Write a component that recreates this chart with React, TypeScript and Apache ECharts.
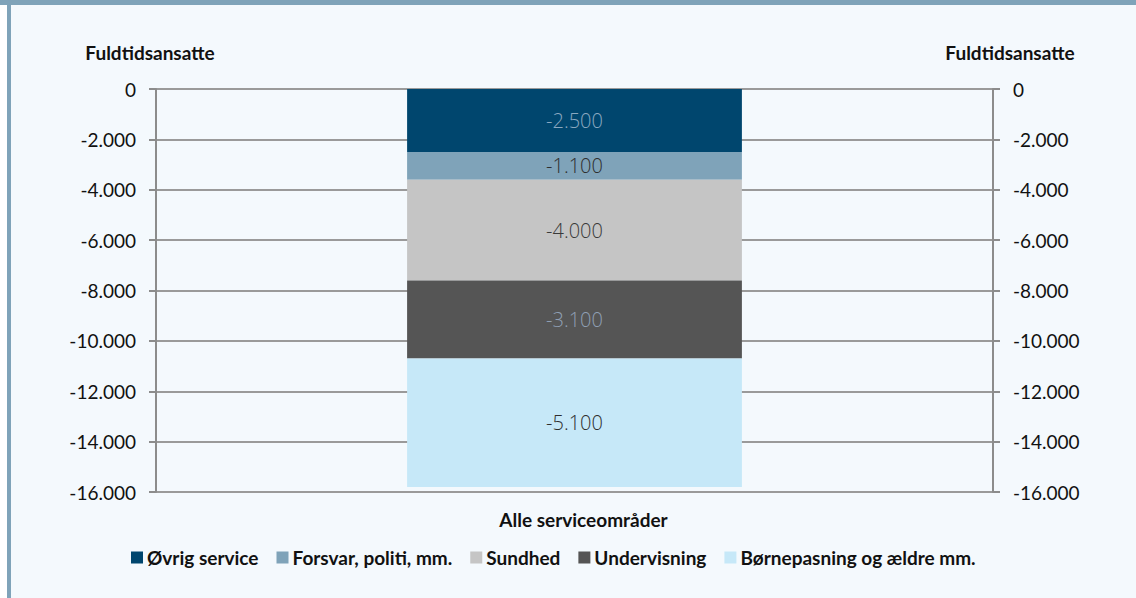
import React, { useEffect, useRef } from "react";
import * as echarts from "echarts";

const categories = ["Alle serviceområder"];
const seriesNames = [
  "Øvrig service",
  "Forsvar, politi, mm.",
  "Sundhed",
  "Undervisning",
  "Børnepasning og ældre mm.",
];
const seriesValues = [[-2500], [-1100], [-4000], [-3100], [-5100]];
const seriesColors = ["#00466E", "#7FA3B9", "#C5C5C5", "#555555", "#C6E8F8"];
const labelColors = ["#8AA8C0", "#2E2E2E", "#3A3A3A", "#8F9FB3", "#2E2E2E"];
const axisName = "Fuldtidsansatte";
const yMin = -16000;
const yMax = 0;
const yInterval = 2000;

const fmt = (v: number) => {
  const s = Math.abs(v).toString().replace(/\B(?=(\d{3})+(?!\d))/g, ".");
  return (v < 0 ? "-" : "") + s;
};

const FONT = "Lato, 'Open Sans', sans-serif";

export default function App() {
  const ref = useRef<HTMLDivElement>(null);
  useEffect(() => {
    if (!ref.current) return;
    const chart = echarts.init(ref.current, undefined, { renderer: "svg" });
    const yAxisCommon = {
      type: "value",
      min: yMin,
      max: yMax,
      interval: yInterval,
      axisLine: { show: true, lineStyle: { color: "#8C8C8C", width: 2 } },
      axisTick: { show: true, length: 7, lineStyle: { color: "#8C8C8C", width: 2 } },
      axisLabel: {
        margin: 20,
        formatter: (v: number) => fmt(v),
        color: "#111",
        fontSize: 19,
        fontFamily: FONT,
      },
    };
    chart.setOption({
      animation: false,
      backgroundColor: "#FFFFFF",
      textStyle: { fontFamily: FONT },
      graphic: [
        { type: "rect", z: -10, silent: true, shape: { x: 11, y: 5, width: 1125, height: 593 }, style: { fill: "#F4F9FD" } },
        { type: "rect", z: -9, silent: true, shape: { x: 0, y: 0, width: 1136, height: 5 }, style: { fill: "#7FA3B9" } },
        { type: "rect", z: -9, silent: true, shape: { x: 7, y: 0, width: 4, height: 598 }, style: { fill: "#7FA3B9" } },
        {
          type: "text",
          x: 150,
          y: 52,
          style: { text: axisName, fill: "#111", font: `bold 19px ${FONT}`, textAlign: "center", textVerticalAlign: "middle" },
        },
        {
          type: "text",
          x: 1010,
          y: 52,
          style: { text: axisName, fill: "#111", font: `bold 19px ${FONT}`, textAlign: "center", textVerticalAlign: "middle" },
        },
      ],
      grid: { left: 156, right: 143, top: 89, bottom: 106, containLabel: false },
      legend: {
        top: 543,
        left: 126,
        itemWidth: 12,
        itemHeight: 12,
        itemGap: 18,
        icon: "rect",
        textStyle: { fontSize: 19, fontWeight: "bold", color: "#111", fontFamily: FONT, padding: [0, 0, 0, -1] },
        data: seriesNames,
      },
      xAxis: {
        type: "category",
        data: categories,
        axisLine: { show: false, onZero: false },
        axisTick: { show: false },
        axisLabel: {
          margin: 18,
          fontSize: 19,
          fontWeight: "bold",
          color: "#111",
          fontFamily: FONT,
          padding: [0, 0, 0, 18],
        },
      },
      yAxis: [
        {
          ...yAxisCommon,
          position: "left",
          splitLine: { show: true, lineStyle: { color: "#9A9A9A", width: 2 } },
        },
        {
          ...yAxisCommon,
          position: "right",
          splitLine: { show: false },
        },
      ],
      series: seriesNames.map((name, i) => ({
        name,
        type: "bar",
        stack: "total",
        yAxisIndex: 0,
        barWidth: "40%",
        data: seriesValues[i],
        itemStyle: { color: seriesColors[i] },
        label: {
          show: true,
          position: "inside",
          formatter: (p: any) => fmt(p.value),
          color: labelColors[i],
          fontSize: 20,
          fontWeight: 300,
          fontFamily: "'Open Sans', Lato, sans-serif",
        },
      })),
    });
    return () => chart.dispose();
  }, []);
  return (
    <div
      ref={ref}
      style={{ position: "fixed", left: 0, top: 0, width: 1136, height: 598 }}
    />
  );
}
